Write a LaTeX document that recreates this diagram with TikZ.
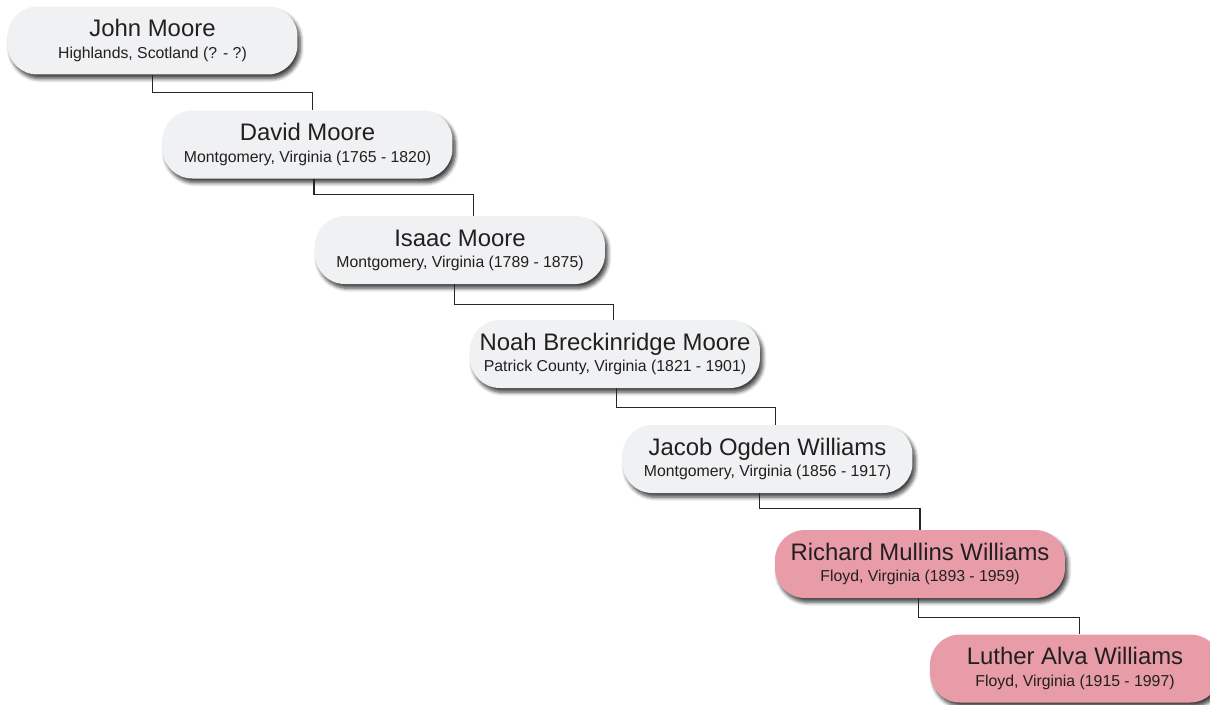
\documentclass[tikz,border=0pt]{standalone}
\usepackage{fontspec}
\setmainfont{Liberation Sans}
\usetikzlibrary{shadows.blur}

\definecolor{boxgray}{RGB}{240,241,242}
\definecolor{boxpink}{RGB}{232,156,167}
\definecolor{textgray}{RGB}{35,31,32}

\newcommand{\person}[2]{{\fontsize{13.6}{12}\selectfont #1}\\{\fontsize{9}{12}\selectfont #2}}

\begin{document}
\begin{tikzpicture}[x=0.02cm, y=-0.02cm,
    ancestor/.style={rounded corners=17pt, fill=boxgray, text=textgray,
        minimum width=5.8cm, minimum height=1.36cm, inner sep=0pt, align=center,
        blur shadow={shadow xshift=1.6pt, shadow yshift=-2.4pt, shadow blur steps=6, shadow opacity=75}},
    direct/.style={ancestor, fill=boxpink},
    link/.style={draw=black!85, line width=0.6pt}]

    %% Page
    \useasboundingbox (0,0) rectangle (1210,704);

    %% Generations
    \node [ancestor] (john) at (152.5, 40.5) {\person{John Moore}{Highlands, Scotland (? - ?)}};
    \node [ancestor] (david) at (307.5, 144.5) {\person{David Moore}{Montgomery, Virginia (1765 - 1820)}};
    \node [ancestor] (isaac) at (460, 250) {\person{Isaac Moore}{Montgomery, Virginia (1789 - 1875)}};
    \node [ancestor] (noah) at (615, 354) {\person{Noah Breckinridge Moore}{Patrick County, Virginia (1821 - 1901)}};
    \node [ancestor] (jacob) at (767.5, 459) {\person{Jacob Ogden Williams}{Montgomery, Virginia (1856 - 1917)}};
    \node [direct] (richard) at (920, 564) {\person{Richard Mullins Williams}{Floyd, Virginia (1893 - 1959)}};
    \node [direct] (luther) at (1075, 668.5) {\person{Luther Alva Williams}{Floyd, Virginia (1915 - 1997)}};

    %% Parent to child
    \draw [link] (john.south) -- ++(0, 18) -| ([xshift=3.1pt]david.north);
    \draw [link] ([xshift=3.7pt]david.south) -- ++(0, 16) -| ([xshift=7.9pt]isaac.north);
    \draw [link] ([xshift=-3.4pt]isaac.south) -- ++(0, 20) -| ([xshift=-0.6pt]noah.north);
    \draw [link] ([xshift=0.6pt]noah.south) -- ++(0, 19) -| ([xshift=4.3pt]jacob.north);
    \draw [link] ([xshift=-4.3pt]jacob.south) -- ++(0, 15) -| (richard.north);
    \draw [link] ([xshift=-1.1pt]richard.south) -- ++(0, 19) -| ([xshift=2.3pt]luther.north);
\end{tikzpicture}
\end{document}
